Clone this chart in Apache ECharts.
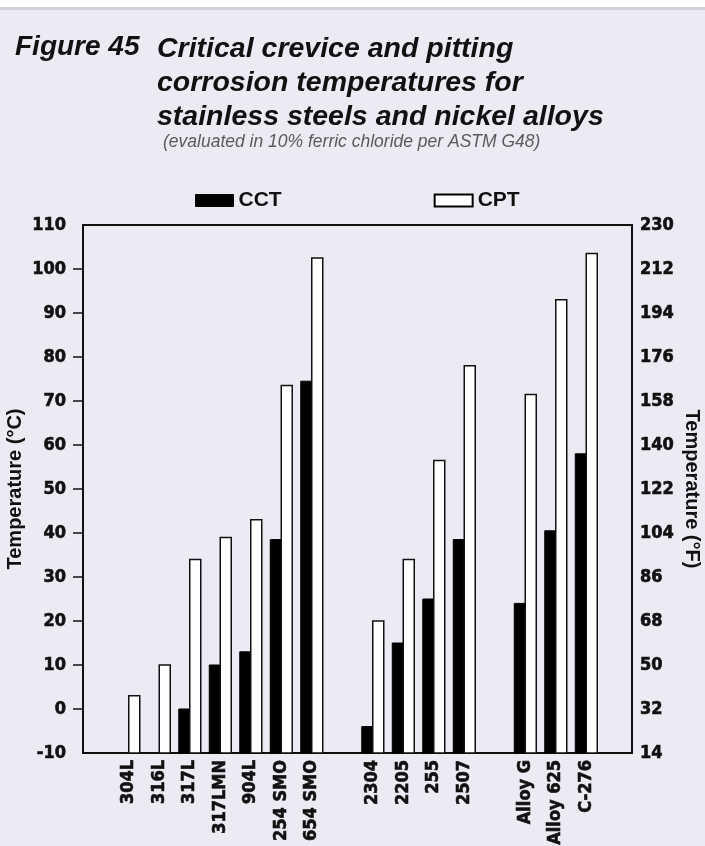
<!DOCTYPE html>
<html>
<head>
<meta charset="utf-8">
<script src="https://cdn.jsdelivr.net/npm/echarts@6/dist/echarts.min.js"></script>
<style>
html,body{margin:0;padding:0;background:#ecebf4;}
#chart{width:705px;height:846px;}
</style>
</head>
<body>
<div id="chart"></div>
<script>
// ---- data ----
const categories = ['', '304L', '316L', '317L', '317LMN', '904L', '254 SMO', '654 SMO', '',
  '2304', '2205', '255', '2507', '', 'Alloy G', 'Alloy 625', 'C-276', ''];
const cctValues = [null, null, null, 0, 10, 13, 38.5, 74.5, null,
  -4, 15, 25, 38.5, null, 24, 40.5, 58, null];
const cptValues = [null, 3, 10, 34, 39, 43, 73.5, 102.5, null,
  20, 34, 56.5, 78, null, 71.5, 93, 103.5, null];
const celsiusTicks = [-10, 0, 10, 20, 30, 40, 50, 60, 70, 80, 90, 100, 110];
const fahrenheitTicks = [14, 32, 50, 68, 86, 104, 122, 140, 158, 176, 194, 212, 230];
const tickMarks = [0, 10, 20, 30, 40, 50, 60, 70, 80, 90, 100];

const cMin = celsiusTicks[0], cMax = celsiusTicks[celsiusTicks.length - 1];
const fMin = fahrenheitTicks[0], fMax = fahrenheitTicks[fahrenheitTicks.length - 1];

const NARROW = "'DejaVu Sans Condensed', 'Liberation Sans Narrow', sans-serif";
const SANS = "'Liberation Sans', Arial, Helvetica, sans-serif";

function toPoints(arr) {
  const out = [];
  arr.forEach((v, i) => { if (v !== null) out.push([i, v]); });
  return out;
}

const BW = 11;
function makeRender(side) {
  return function (params, api) {
    const idx = api.value(0), v = api.value(1);
    const top = api.coord([idx, v]);
    const bot = api.coord([idx, cMin]);
    const x = side < 0 ? top[0] - BW : top[0];
    return {
      type: 'rect',
      shape: { x: x, y: top[1], width: BW, height: bot[1] - top[1] },
      style: api.style()
    };
  };
}

const labelStyle = { fontFamily: NARROW, fontSize: 18, fontWeight: 'bold', color: '#111',
  textBorderColor: '#111', textBorderWidth: 0.6 };

const chart = echarts.init(document.getElementById('chart'), null, { renderer: 'canvas' });
chart.setOption({
  backgroundColor: '#ecebf4',
  animation: false,
  graphic: [
    { type: 'rect', left: 0, top: 0, shape: { width: 705, height: 7 }, style: { fill: '#ffffff' } },
    { type: 'rect', left: 0, top: 7, shape: { width: 705, height: 3 }, style: { fill: '#d2d2d6' } }
  ],
  title: [
    { text: 'Figure 45', left: 10, top: 28,
      textStyle: { fontFamily: SANS, fontSize: 28, fontWeight: 'bold', fontStyle: 'italic', color: '#111' } },
    { text: 'Critical crevice and pitting\ncorrosion temperatures for\nstainless steels and nickel alloys', left: 152, top: 27,
      textStyle: { fontFamily: SANS, fontSize: 28.5, fontWeight: 'bold', fontStyle: 'italic', color: '#111', lineHeight: 34 } },
    { text: '(evaluated in 10% ferric chloride per ASTM G48)', left: 158, top: 128,
      textStyle: { fontFamily: SANS, fontSize: 17.5, fontWeight: 'normal', fontStyle: 'italic', color: '#5a5a5a' } }
  ],
  legend: {
    left: 190, top: 185,
    itemWidth: 38, itemHeight: 12, itemGap: 152,
    icon: 'rect',
    textStyle: { fontFamily: SANS, fontSize: 21, fontWeight: 'bold', color: '#111' },
    data: [
      { name: 'CCT', itemStyle: { color: '#000', borderColor: '#000', borderWidth: 1 } },
      { name: 'CPT', itemStyle: { color: '#fff', borderColor: '#000', borderWidth: 2 } }
    ]
  },
  grid: { left: 83, right: 73, top: 225, bottom: 93, outerBoundsMode: 'none', containLabel: false,
    show: true, borderColor: '#111', borderWidth: 2, backgroundColor: 'transparent' },
  xAxis: {
    type: 'category', data: categories, boundaryGap: true,
    axisLine: { show: true, onZero: false, lineStyle: { color: '#111', width: 2 } },
    axisTick: { show: false },
    splitLine: { show: false },
    axisLabel: Object.assign({ interval: 0, rotate: 90, margin: 7 }, labelStyle)
  },
  yAxis: [
    { type: 'value', position: 'left', min: cMin, max: cMax, interval: 10,
      name: 'Temperature (°C)', nameLocation: 'middle', nameGap: 58, nameRotate: 90, nameMoveOverlap: false,
      nameTextStyle: { fontFamily: SANS, fontSize: 20, fontWeight: 'bold', color: '#111' },
      axisLine: { show: true, lineStyle: { color: '#111', width: 2 } },
      axisTick: { show: true, inside: false, length: 10, customValues: tickMarks, lineStyle: { color: '#111', width: 1.5 } },
      splitLine: { show: false },
      axisLabel: Object.assign({ margin: 17, customValues: celsiusTicks }, labelStyle) },
    { type: 'value', position: 'right', min: fMin, max: fMax, interval: 18,
      name: 'Temperature (°F)', nameLocation: 'middle', nameGap: 50, nameRotate: -90, nameMoveOverlap: false,
      nameTextStyle: { fontFamily: SANS, fontSize: 20, fontWeight: 'bold', color: '#111' },
      axisLine: { show: true, lineStyle: { color: '#111', width: 2 } },
      axisTick: { show: false },
      splitLine: { show: false },
      axisLabel: Object.assign({ margin: 8, customValues: fahrenheitTicks }, labelStyle) }
  ],
  series: [
    { name: 'CCT', type: 'custom', renderItem: makeRender(-1), yAxisIndex: 0,
      itemStyle: { color: '#000', borderColor: '#000', borderWidth: 1 },
      encode: { x: 0, y: 1 }, data: toPoints(cctValues) },
    { name: 'CPT', type: 'custom', renderItem: makeRender(1), yAxisIndex: 0,
      itemStyle: { color: '#fff', borderColor: '#111', borderWidth: 1.5 },
      encode: { x: 0, y: 1 }, data: toPoints(cptValues) }
  ]
});
</script>
</body>
</html>
